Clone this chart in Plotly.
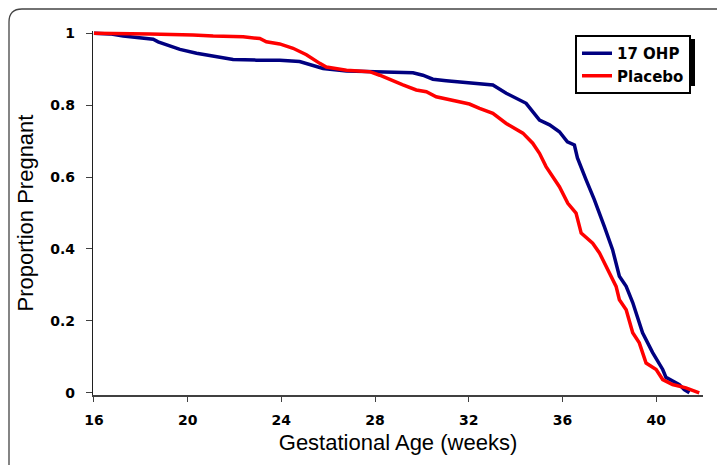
import plotly.graph_objects as go

# ---- Data ----
ohp_weeks = [16.0, 16.68, 17.25, 17.96, 18.53, 18.74, 19.1, 19.67, 20.38, 21.09, 21.94, 22.94,
             23.93, 24.78, 25.35, 25.78, 26.78, 27.91, 29.62, 30.04, 30.47, 31.04, 31.89, 32.46,
             33.03, 33.6, 34.03, 34.45, 35.02, 35.45, 35.87, 36.21, 36.51, 36.64, 37.01, 37.36,
             37.79, 38.14, 38.43, 38.72, 39.0, 39.42, 39.85, 40.28, 40.42, 40.99, 41.2, 41.42]
ohp_prop = [1.0, 0.998, 0.992, 0.986, 0.983, 0.976, 0.967, 0.955, 0.944, 0.936, 0.927, 0.925,
            0.925, 0.921, 0.911, 0.902, 0.895, 0.893, 0.890, 0.883, 0.872, 0.868, 0.863, 0.860,
            0.856, 0.833, 0.819, 0.805, 0.758, 0.745, 0.726, 0.698, 0.689, 0.653, 0.592, 0.537,
            0.462, 0.398, 0.324, 0.296, 0.251, 0.167, 0.112, 0.065, 0.043, 0.023, 0.009, 0.0]

placebo_weeks = [16.0, 18.25, 18.39, 20.23, 21.09, 22.37, 23.08, 23.36, 23.93, 24.5, 25.07, 25.64,
                 25.92, 26.78, 27.77, 28.2, 28.62, 29.19, 29.76, 30.19, 30.61, 31.32, 32.03, 32.46,
                 33.03, 33.6, 34.31, 34.73, 35.02, 35.3, 35.52, 35.87, 36.23, 36.58, 36.8, 37.29,
                 37.58, 37.93, 38.29, 38.43, 38.72, 39.0, 39.28, 39.57, 40.0, 40.28, 40.7, 41.27,
                 41.7, 41.84]
placebo_prop = [1.0, 1.0, 0.998, 0.995, 0.992, 0.990, 0.985, 0.976, 0.970, 0.958, 0.940, 0.916,
                0.906, 0.897, 0.893, 0.883, 0.871, 0.856, 0.842, 0.837, 0.823, 0.814, 0.803, 0.791,
                0.777, 0.749, 0.722, 0.694, 0.666, 0.629, 0.606, 0.573, 0.527, 0.500, 0.444, 0.416,
                0.389, 0.342, 0.296, 0.259, 0.231, 0.167, 0.139, 0.083, 0.065, 0.037, 0.023, 0.014,
                0.004, 0.0]

x_ticks = [16, 20, 24, 28, 32, 36, 40]
y_ticks = [0, 0.2, 0.4, 0.6, 0.8, 1]
y_tick_labels = ["0", "0.2", "0.4", "0.6", "0.8", "1"]

# ---- Layout geometry (page has an 8px body margin) ----
W, H = 717, 457
ML, MR, MT, MB = 85, 22, 23, 70
PW, PH = W - ML - MR, H - MT - MB


def px(x):
    return (x - ML) / PW


def py(y):
    return 1 - (y - MT) / PH


TICK_FONT = "DejaVu Sans, Verdana, sans-serif"
TITLE_FONT = "Liberation Sans, Arial, sans-serif"

fig = go.Figure()
fig.add_trace(go.Scatter(x=ohp_weeks, y=ohp_prop, mode="lines", name="17 OHP",
                         line=dict(color="#000080", width=3.5)))
fig.add_trace(go.Scatter(x=placebo_weeks, y=placebo_prop, mode="lines", name="Placebo",
                         line=dict(color="#FF0000", width=3.5)))

# outer border (rounded top-left corner, runs off the right and bottom)
r = 13
bx, by = 1, 1
path = (f"M {px(bx)},{py(H + 10)} L {px(bx)},{py(by + r)} "
        f"Q {px(bx)},{py(by)} {px(bx + r)},{py(by)} L {px(W + 10)},{py(by)}")
shapes = [dict(type="path", xref="paper", yref="paper", path=path,
               line=dict(color="#444444", width=1.3))]
# legend drop shadow
shapes.append(dict(type="rect", xref="paper", yref="paper",
                   x0=px(571), x1=px(687), y0=py(31), y1=py(78),
                   fillcolor="black", line=dict(width=0)))

fig.update_layout(
    width=W, height=H,
    margin=dict(l=ML, r=MR, t=MT, b=MB, autoexpand=False),
    paper_bgcolor="white", plot_bgcolor="white",
    font=dict(family=TITLE_FONT, color="black"),
    shapes=shapes,
    showlegend=True,
    legend=dict(x=px(567), y=py(27), xanchor="left", yanchor="top",
                bgcolor="white", bordercolor="black", borderwidth=2,
                font=dict(size=15, family=TICK_FONT, weight="bold"),
                itemwidth=30, tracegroupgap=0),
    xaxis=dict(range=[15.96, 42], tickvals=x_ticks, ticks="outside", ticklen=5,
               tickcolor="#404040", showgrid=False, zeroline=False,
               showline=True, linecolor="#404040", linewidth=1.5,
               ticklabelstandoff=6,
               tickfont=dict(size=14, family=TICK_FONT, weight="bold"),
               title=dict(text="Gestational Age (weeks)", font=dict(size=22), standoff=8)),
    yaxis=dict(range=[-0.006, 1.006], tickvals=y_ticks, ticktext=y_tick_labels,
               ticks="outside", ticklen=6, tickcolor="#404040",
               showgrid=False, zeroline=False,
               showline=True, linecolor="#202020", linewidth=1.2,
               ticklabelstandoff=8,
               tickfont=dict(size=14, family=TICK_FONT, weight="bold"),
               title=dict(text="Proportion Pregnant", font=dict(size=22), standoff=10)),
)

fig.write_html("out.html")
